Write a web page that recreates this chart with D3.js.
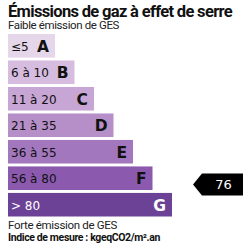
<!DOCTYPE html>
<html><head><meta charset="utf-8">
<script src="https://cdn.jsdelivr.net/npm/d3@7"></script>
<style>body{margin:0;background:#fff}</style>
</head><body>
<script>
const classes = ["A","B","C","D","E","F","G"];
const rangeLabels = ["≤5","6 à 10","11 à 20","21 à 35","36 à 55","56 à 80","> 80"];
const lowerBounds = [0,6,11,21,36,56,80];
const upperBounds = [5,10,20,35,55,80,100];
const colors = ["#e6d6ea","#d6bde0","#c7a6d5","#b68fc9","#a277bd","#8b5aae","#6b4296"];
const value = 76;
const valueClass = "F";
const title = "Émissions de gaz à effet de serre";
const topNote = "Faible émission de GES";
const bottomNote = "Forte émission de GES";
const unitNote = "Indice de mesure : kgeqCO2/m².an";

const svg = d3.select("body").append("svg").attr("width",250).attr("height",250);

// shrink letter spacing so the text spans targetW
function fit(sel, targetW){
  const n = sel.text().length;
  const len = sel.node().getComputedTextLength();
  sel.attr("letter-spacing", Math.min(0,(targetW-len)/n));
  return sel;
}

const y = d3.scaleBand().domain(classes).range([34,216.5]).paddingInner(0.11).paddingOuter(0);
const w = d3.scaleLinear().domain([0,classes.length-1]).range([47,164]);
const x0 = 8;

fit(svg.append("text").attr("x",8).attr("y",17).text(title)
  .attr("font-family","Roboto").attr("font-weight","bold").attr("font-size",16.5).attr("fill","#111"), 224);
fit(svg.append("text").attr("x",8).attr("y",28.5).text(topNote)
  .attr("font-family","Roboto").attr("font-size",11.5).attr("fill","#222"), 111);

const g = svg.selectAll("g.bar").data(classes).join("g").attr("class","bar")
  .attr("transform",d=>`translate(${x0},${y(d)})`);
g.append("rect").attr("width",(d,i)=>w(i)).attr("height",y.bandwidth()).attr("fill",(d,i)=>colors[i]);
g.append("text").attr("x",3).attr("y",17).text((d,i)=>rangeLabels[i])
  .attr("font-family","DejaVu Sans").attr("font-size",12)
  .attr("fill",(d,i)=>i===6?"#fff":"#111");
g.append("text").attr("x",(d,i)=>w(i)-6).attr("y",18).attr("text-anchor","end").text(d=>d)
  .attr("font-family","DejaVu Sans").attr("font-weight","bold").attr("font-size",15.5)
  .attr("fill",(d,i)=>i===6?"#fff":"#111");

// arrow
const ci = classes.indexOf(valueClass);
const vy = d3.scaleLinear().domain([lowerBounds[ci],upperBounds[ci]]).range([y(valueClass),y(valueClass)+y.bandwidth()]);
const cy = vy(value)-1.5;
const ah = 22, tipX = 193, bodyX = 202, rightX = 243;
svg.append("path")
  .attr("d",`M${tipX},${cy} L${bodyX},${cy-ah/2} L${rightX},${cy-ah/2} L${rightX},${cy+ah/2} L${bodyX},${cy+ah/2} Z`)
  .attr("fill","#000");
svg.append("text").attr("x",(bodyX+rightX)/2+1).attr("y",cy+4.5).attr("text-anchor","middle").text(value)
  .attr("font-family","DejaVu Sans").attr("font-size",13).attr("fill","#fff");

fit(svg.append("text").attr("x",8).attr("y",229).text(bottomNote)
  .attr("font-family","Roboto").attr("font-size",11.5).attr("fill","#222"), 109);
fit(svg.append("text").attr("x",8).attr("y",241).text(unitNote)
  .attr("font-family","Roboto").attr("font-weight","bold").attr("font-size",10.5).attr("fill","#111"), 152);
</script>
</body></html>
